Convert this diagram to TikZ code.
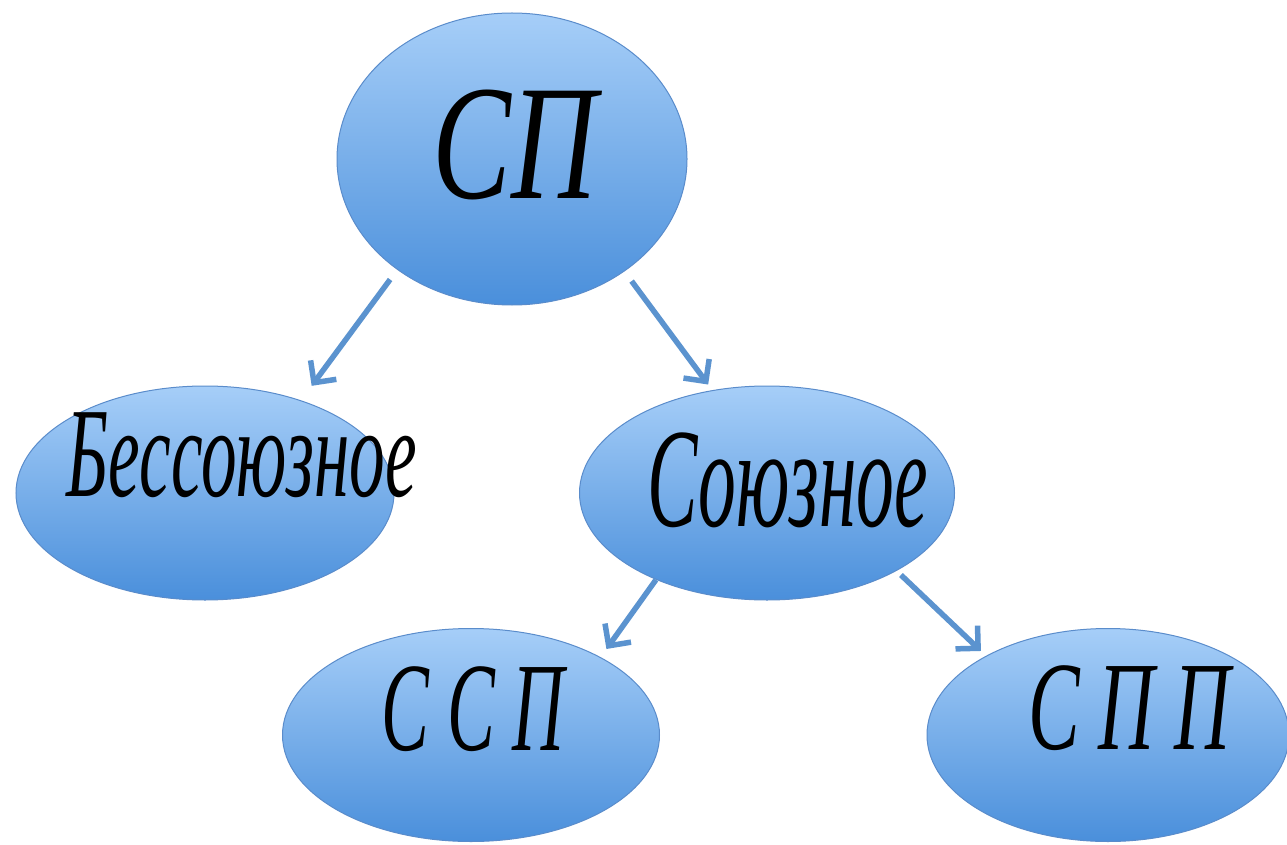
\documentclass[tikz,border=0pt]{standalone}
\usepackage{fontspec}
\setmainfont{Liberation Serif}
\usetikzlibrary{shapes.geometric,arrows.meta}
\definecolor{ftop}{HTML}{A6CEF8}
\definecolor{fbot}{HTML}{4A8FDB}
\definecolor{edge}{HTML}{5A8CCB}
\definecolor{arr}{HTML}{5B93CF}
\newcommand\hw[3]{\resizebox*{#1}{#2}{\itshape #3}}
\tikzset{
  bubble/.style={ellipse, inner sep=0pt, draw=edge, line width=1pt,
    top color=ftop, bottom color=fbot},
  hand/.style={inner sep=0pt, text=black},
  link/.style={draw=arr, line width=5.5pt,
    -{Straight Barb[length=16pt,width=32pt,line width=5.5pt]}}
}
\begin{document}
\begin{tikzpicture}[x=1pt,y=-1pt]
\useasboundingbox[fill=white] (0,0) rectangle (1287,845);
\node[bubble, minimum width=350pt, minimum height=292pt] (top) at (512,159) {};
\node[bubble, minimum width=378pt, minimum height=214pt] (bess) at (205,493) {};
\node[bubble, minimum width=375pt, minimum height=214pt] (soyuz) at (767,493) {};
\node[bubble, minimum width=377pt, minimum height=213pt] (ssp) at (471,735) {};
\node[bubble, minimum width=362pt, minimum height=213pt] (spp) at (1108,735) {};
\node[hand] (ttop) at (515,145) {\hw{164pt}{110pt}{СП}};
\node[hand] (tbess) at (242,455) {\hw{350pt}{85pt}{Бессоюзное}};
\node[hand] (tsoyuz) at (788,480) {\hw{280pt}{95pt}{Союзное}};
\node[hand] (tssp) at (473,709) {\hw{183pt}{85pt}{С С П}};
\node[hand] (tspp) at (1129,708) {\hw{202pt}{85pt}{С П П}};
\draw[link, shorten <=12pt, shorten >=18pt] (top.224.8) -- (bess.44.5);
\draw[link, shorten <=12pt, shorten >=7pt] (top.-45) -- (soyuz.118.3);
\draw[link, shorten <=0pt, shorten >=10pt] (soyuz.218.5) -- (ssp.31.8);
\draw[link, shorten <=6pt, shorten >=7pt] (soyuz.-31) -- (spp.147.4);
\end{tikzpicture}
\end{document}
